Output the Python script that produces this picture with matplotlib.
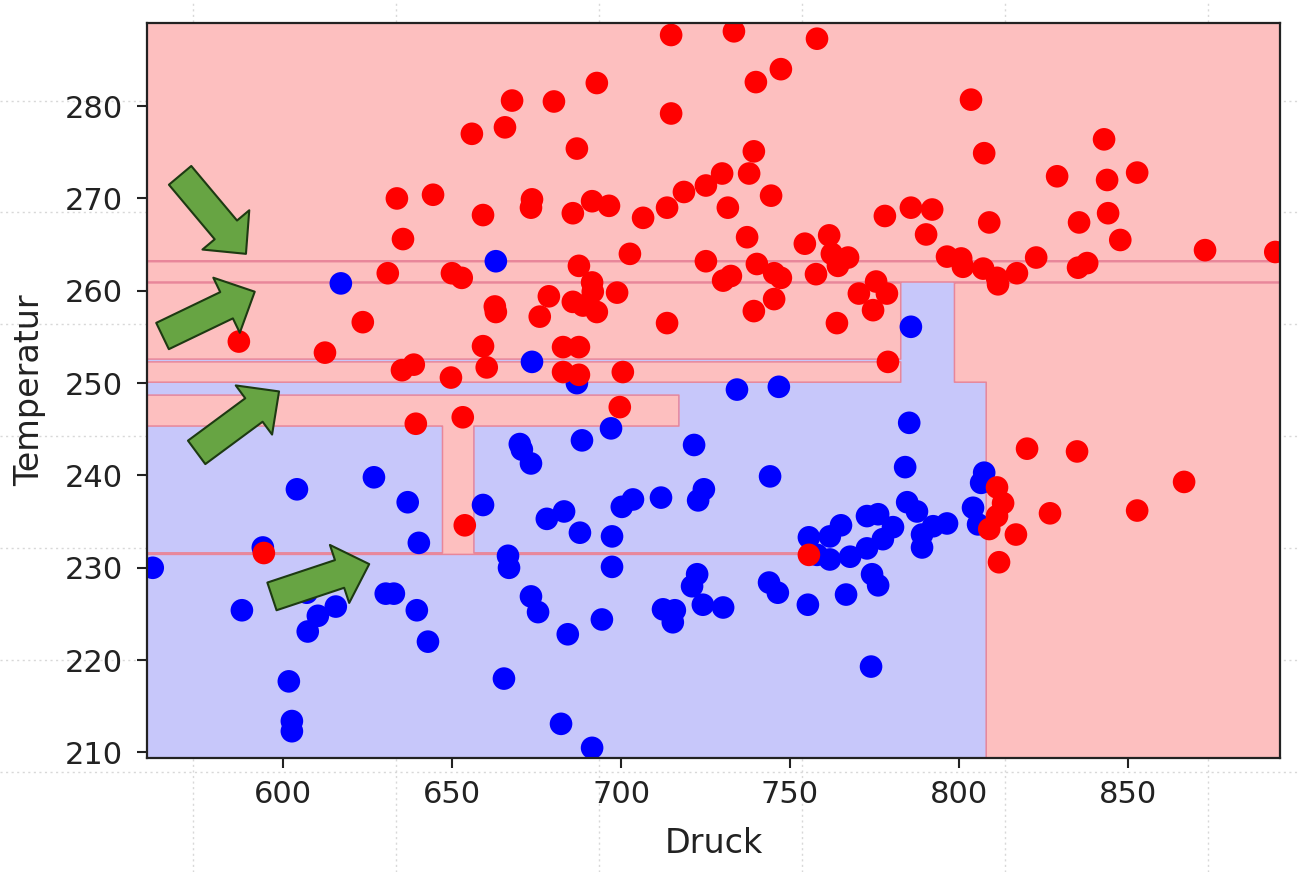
import numpy as np
import matplotlib
matplotlib.use("Agg")
import matplotlib.pyplot as plt
from matplotlib.patches import FancyArrowPatch, ArrowStyle

# ---------------- data ----------------
red_druck = [655.8, 665.6, 667.7, 680.1, 692.8, 714.8, 714.8, 733.4, 739.9, 747.3,
             758.0, 686.9, 739.3, 633.6, 644.3, 673.6, 673.3, 659.1, 635.4, 685.7,
             691.4, 696.4, 706.5, 713.6, 718.6, 725.1, 729.9, 737.9, 744.4, 731.6,
             778.1, 785.8, 790.3, 792.1, 803.6, 807.5, 843.0, 829.1, 843.9, 852.8,
             809.0, 835.6, 844.2, 847.8, 630.9, 649.9, 652.8, 678.6, 662.6, 662.9,
             675.9, 623.5, 586.8, 612.3, 659.1, 660.2, 638.6, 635.1, 649.6, 702.6,
             687.5, 725.1, 737.3, 740.2, 745.3, 747.3, 730.2, 732.5, 754.4, 757.7,
             761.6, 762.4, 767.2, 764.2, 691.4, 691.6, 685.7, 688.7, 692.8, 698.8,
             745.3, 739.3, 713.6, 763.9, 770.4, 775.5, 778.7, 774.6, 682.8, 687.5,
             682.8, 687.5, 700.5, 779.0, 796.5, 800.7, 801.2, 807.2, 811.3, 811.6,
             817.2, 822.9, 835.3, 838.0, 872.9, 893.7, 639.2, 653.1, 653.7, 594.2,
             699.6, 755.6, 811.3, 813.1, 811.3, 809.0, 816.9, 811.9, 820.2, 835.0,
             827.0, 852.8, 866.7]
red_temp = [277.0, 277.7, 280.6, 280.5, 282.5, 287.7, 279.2, 288.1, 282.6, 284.0,
            287.3, 275.4, 275.1, 270.0, 270.4, 269.9, 269.0, 268.2, 265.6, 268.4,
            269.7, 269.2, 267.9, 269.0, 270.7, 271.4, 272.7, 272.7, 270.3, 269.0,
            268.1, 269.0, 266.1, 268.8, 280.7, 274.9, 276.4, 272.4, 272.0, 272.8,
            267.4, 267.4, 268.4, 265.5, 261.9, 261.9, 261.4, 259.4, 258.3, 257.7,
            257.2, 256.6, 254.5, 253.3, 254.0, 251.7, 252.0, 251.4, 250.6, 264.0,
            262.7, 263.2, 265.8, 262.9, 261.9, 261.4, 261.1, 261.6, 265.1, 261.8,
            266.0, 264.0, 263.6, 262.7, 260.9, 259.9, 258.8, 258.4, 257.7, 259.8,
            259.1, 257.8, 256.5, 256.5, 259.7, 261.0, 259.7, 257.9, 253.9, 253.9,
            251.2, 250.9, 251.2, 252.3, 263.7, 263.5, 262.6, 262.4, 261.4, 260.7,
            261.9, 263.6, 262.5, 263.0, 264.4, 264.2, 245.6, 246.3, 234.6, 231.6,
            247.4, 231.4, 238.7, 237.0, 235.6, 234.2, 233.6, 230.6, 242.9, 242.6,
            235.9, 236.2, 239.3]

blue_druck = [561.3, 587.7, 593.9, 601.6, 602.5, 602.5, 604.0, 606.9, 610.2, 607.2,
              615.5, 617.0, 626.8, 630.3, 632.7, 636.8, 639.5, 640.1, 642.8, 659.1,
              662.9, 665.3, 666.5, 666.8, 670.0, 670.6, 673.3, 673.6, 673.3, 675.4,
              678.0, 683.1, 682.2, 684.2, 686.9, 687.8, 688.4, 691.4, 694.3, 697.0,
              697.3, 697.3, 700.2, 703.5, 711.8, 712.4, 715.3, 715.9, 721.0, 721.6,
              722.5, 722.8, 724.2, 724.5, 730.2, 734.3, 744.1, 743.8, 746.4, 746.7,
              755.3, 766.6, 755.6, 761.8, 765.1, 772.8, 776.1, 780.5, 777.5, 772.8,
              767.8, 761.8, 758.0, 774.3, 776.1, 774.0, 785.8, 785.3, 784.1, 784.7,
              787.6, 789.1, 789.1, 792.4, 796.5, 804.2, 805.7, 807.5, 806.6]
blue_temp = [230.0, 225.4, 232.2, 217.7, 213.4, 212.3, 238.5, 227.3, 224.8, 223.1,
             225.8, 260.8, 239.8, 227.2, 227.2, 237.1, 225.4, 232.7, 222.0, 236.8,
             263.2, 218.0, 231.3, 230.0, 243.4, 242.8, 241.3, 252.3, 226.9, 225.2,
             235.3, 236.1, 213.1, 222.8, 250.0, 233.8, 243.8, 210.5, 224.4, 245.1,
             233.4, 230.1, 236.6, 237.4, 237.6, 225.5, 224.1, 225.4, 228.0, 243.3,
             229.3, 237.3, 226.0, 238.5, 225.7, 249.3, 239.9, 228.4, 227.3, 249.6,
             226.0, 227.1, 233.3, 233.4, 234.6, 235.6, 235.8, 234.4, 233.1, 232.1,
             231.2, 230.9, 231.4, 229.3, 228.1, 219.3, 256.1, 245.7, 240.9, 237.1,
             236.1, 233.6, 232.2, 234.5, 234.8, 236.5, 234.7, 240.3, 239.2]

# decision-tree leaf rectangles (painted in order over class 0 = red); 1 = blue
INF = 1e4
region_class = [1, 1, 0, 0, 0, 1, 1, 1]
region_x0 = [-INF, 782.8, -INF, 647.1, -INF, -INF, -INF, -INF]
region_x1 = [808.1, 798.7, 717.1, 656.4, 754.7, 782.8, INF, INF]
region_y0 = [-INF, 250.1, 245.35, 231.55, 231.45, 252.3, 263.15, 260.85]
region_y1 = [250.1, 260.9, 248.7, 245.35, 231.62, 252.6, 263.25, 260.95]

# annotation arrows (tail -> tip)
arrow_tail_druck = [569.4, 564.2, 574.3, 596.6]
arrow_tail_temp = [272.5, 255.1, 242.5, 226.9]
arrow_tip_druck = [588.9, 591.5, 598.7, 625.4]
arrow_tip_temp = [264.0, 259.9, 249.1, 230.4]

x_ticks = [600, 650, 700, 750, 800, 850]
y_ticks = [210, 220, 230, 240, 250, 260, 270, 280]
x_limits = (559.6, 895.1)
y_limits = (209.4, 289.0)

# ---------------- figure ----------------
W, H = 1300, 872
fig = plt.figure(figsize=(W / 100, H / 100), dpi=100)

# faint dotted background grid of the surrounding canvas
bg = fig.add_axes([0, 0, 1, 1], zorder=-5)
bg.set_xlim(0, W)
bg.set_ylim(H, 0)
bg.axis("off")
for gx in [193, 396, 599, 802, 1005, 1208]:
    bg.axvline(gx, color="#d8d8d8", lw=1.0, ls=(0, (1.5, 2.5)))
for gy in [101, 212, 324, 436, 548, 660, 772]:
    bg.axhline(gy, color="#d8d8d8", lw=1.0, ls=(0, (1.5, 2.5)))

ax = fig.add_axes([147 / W, 1 - 758 / H, (1280 - 147) / W, (758 - 23) / H])
ax.set_xlim(*x_limits)
ax.set_ylim(*y_limits)

# build a rectilinear grid whose nodes straddle every region edge
eps = 1e-3
def nodes(lo, hi, edges):
    pts = [lo, hi]
    for e in edges:
        if lo < e < hi:
            pts += [e - eps, e + eps]
    return np.array(sorted(set(pts)))

gx_nodes = nodes(x_limits[0] - 1, x_limits[1] + 1, region_x0 + region_x1)
gy_nodes = nodes(y_limits[0] - 1, y_limits[1] + 1, region_y0 + region_y1)
XX, YY = np.meshgrid(gx_nodes, gy_nodes)
Z = np.zeros_like(XX)
for c, x0, x1, y0, y1 in zip(region_class, region_x0, region_x1, region_y0, region_y1):
    m = (XX > x0) & (XX < x1) & (YY > y0) & (YY < y1)
    Z[m] = c

ax.contourf(XX, YY, Z, levels=[-0.5, 0.5, 1.5], colors=["#fdbfbf", "#c7c7fa"], zorder=0)
ax.contour(XX, YY, Z, levels=[0.5], colors=["#e8869a"], linewidths=1.1, zorder=1)

ax.scatter(blue_druck, blue_temp, s=265, c="#0000ff", edgecolors="none", zorder=3)
ax.scatter(red_druck, red_temp, s=265, c="#ff0000", edgecolors="none", zorder=3)

style = ArrowStyle("Simple", head_length=22.5, head_width=44, tail_width=21)
for tx, ty, hx, hy in zip(arrow_tail_druck, arrow_tail_temp, arrow_tip_druck, arrow_tip_temp):
    arr = FancyArrowPatch((tx, ty), (hx, hy), arrowstyle=style, mutation_scale=1,
                          shrinkA=0, shrinkB=0, fc="#67a443", ec="#1d3a12",
                          lw=1.5, zorder=6)
    ax.add_patch(arr)

ax.set_xticks(x_ticks)
ax.set_yticks(y_ticks)
ax.tick_params(axis="both", which="major", labelsize=22, length=7.5, width=1.5,
               color="#222222", labelcolor="#222222")
ax.tick_params(axis="x", pad=8)
ax.tick_params(axis="y", pad=10)
for sp in ax.spines.values():
    sp.set_linewidth(1.6)
    sp.set_color("#222222")
    sp.set_zorder(10)

ax.set_xlabel("Druck", fontsize=24, color="#222222", labelpad=13)
ax.set_ylabel("Temperatur", fontsize=24, color="#222222", labelpad=13)

fig.savefig("out.png", dpi=100)
